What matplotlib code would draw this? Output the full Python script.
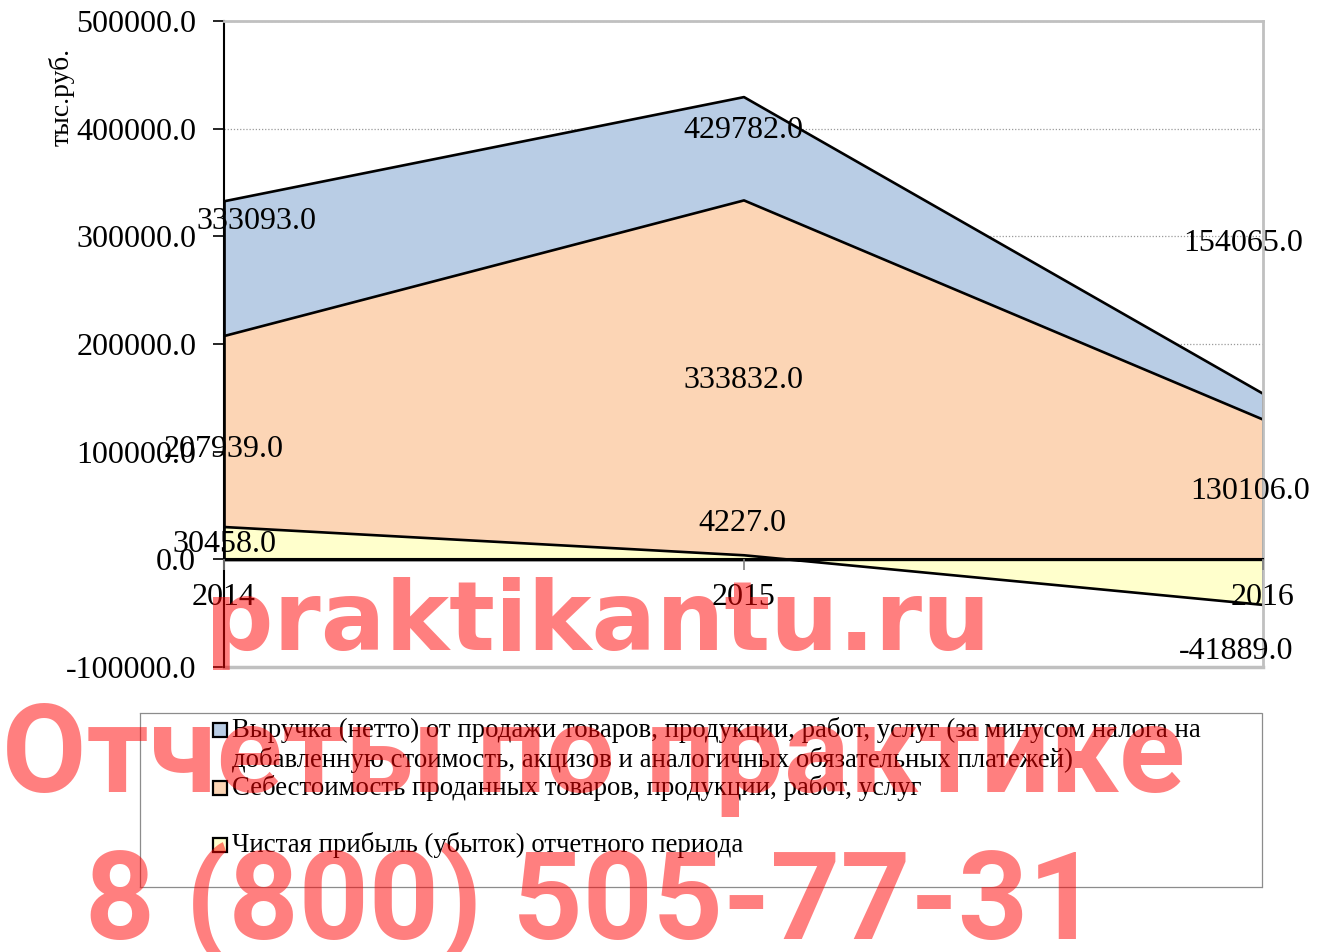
import matplotlib
matplotlib.use('Agg')
import matplotlib.pyplot as plt
from matplotlib.patches import Rectangle
from matplotlib.ticker import FuncFormatter

# ---- data ----
years = ['2014', '2015', '2016']
revenue = [333093.0, 429782.0, 154065.0]
cost = [207939.0, 333832.0, 130106.0]
profit = [30458.0, 4227.0, -41889.0]
series_names = [
    'Выручка (нетто) от продажи товаров, продукции, работ, услуг (за минусом налога на\n'
    'добавленную стоимость, акцизов и аналогичных обязательных платежей)',
    'Себестоимость проданных товаров, продукции, работ, услуг',
    'Чистая прибыль (убыток) отчетного периода',
]
y_ticks = [-100000, 0, 100000, 200000, 300000, 400000, 500000]
y_label = 'тыс.руб.'
watermark = ['praktikantu.ru', 'Отчеты по практике', '8 (800) 505-77-31']

# ---- style ----
colors = ['#B9CDE5', '#FCD5B5', '#FFFFCC']
# data-label offsets in pixels (dx right, dy down) per series / per year
label_offsets = [
    [(32, 21), (0, 34), (-20, -150)],
    [(0, 114), (0, 181), (-13, 72)],
    [(0, 18), (-1, -31), (-27, 47)],
]
FS = 23

plt.rcParams['font.family'] = ['Liberation Serif', 'DejaVu Serif']

W, H = 1325, 952
fig = plt.figure(figsize=(W / 100, H / 100), dpi=100)


def fx(px):
    return px / W


def fy(py):
    return 1 - py / H


ax = fig.add_axes([fx(224), fy(667), fx(1263) - fx(224), fy(21) - fy(667)])
xs = list(range(len(years)))
all_series = [revenue, cost, profit]
for vals, c in zip(all_series, colors):
    ax.fill_between(xs, 0, vals, facecolor=c, edgecolor='black',
                    linewidth=1.9, zorder=2)

ax.set_xlim(0, len(years) - 1)
ax.set_ylim(y_ticks[0], y_ticks[-1])
ax.set_yticks(y_ticks)
ax.yaxis.set_major_formatter(FuncFormatter(lambda v, p: f'{v:.1f}'))
ax.tick_params(axis='y', direction='out', length=8, width=1.2,
               color='black', labelsize=FS, pad=12)
ax.yaxis.grid(True, linestyle=(0, (1, 1.5)), color='#9a9a9a', linewidth=0.9)
ax.set_axisbelow(True)

ax.set_xticks(xs)
ax.set_xticklabels(years)
ax.tick_params(axis='x', direction='out', length=8, width=1.2,
               color='#808080', labelsize=FS, pad=9)
ax.xaxis.set_zorder(4)
ax.spines['bottom'].set_position(('data', 0))
ax.spines['bottom'].set_color('black')
ax.spines['bottom'].set_linewidth(1.5)
ax.spines['left'].set_color('black')
ax.spines['left'].set_linewidth(1.5)
for s in ('top', 'right'):
    ax.spines[s].set_color('#C0C0C0')
    ax.spines[s].set_linewidth(2)
# plot-area bottom border
ax.plot([0, 1], [0, 0], transform=ax.transAxes, color='#C0C0C0',
        linewidth=2.5, clip_on=False, zorder=1)

# data labels
for vals, offs in zip(all_series, label_offsets):
    for xi, v, (dx, dy) in zip(xs, vals, offs):
        ax.annotate(f'{v:.1f}', xy=(xi, v), xytext=(dx, -dy),
                    textcoords='offset pixels', ha='center', va='center',
                    fontsize=FS, zorder=5, annotation_clip=False)

fig.text(fx(62), fy(97), y_label, rotation=90, ha='center', va='center',
         fontsize=20)

# legend box
lax = fig.add_axes([fx(140), fy(887), fx(1262) - fx(140), fy(713) - fy(887)])
lax.set_xlim(140, 1262)
lax.set_ylim(887, 713)
lax.set_xticks([])
lax.set_yticks([])
for s in lax.spines.values():
    s.set_linestyle((0, (1, 1)))
    s.set_color('#8c8c8c')
    s.set_linewidth(0.9)
entry_y = [730, 788, 845]
for name, c, yy in zip(series_names, colors, entry_y):
    lax.add_patch(Rectangle((213, yy - 7), 14, 14, facecolor=c,
                            edgecolor='black', linewidth=1.6))
    for k, line in enumerate(name.split('\n')):
        lax.text(232, yy + 30 * k, line, ha='left', va='center', fontsize=19.3)

# watermark
fig.text(fx(205), fy(650), watermark[0], family=['DejaVu Sans'],
         fontweight='bold', fontsize=69, color='red', alpha=0.5,
         ha='left', va='baseline', zorder=10)
fig.text(fx(2), fy(792), watermark[1], family=['Roboto', 'DejaVu Sans'],
         fontweight='bold', fontsize=88, color='red', alpha=0.5,
         ha='left', va='baseline', zorder=10)
fig.text(fx(85), fy(940), watermark[2], family=['Roboto', 'DejaVu Sans'],
         fontweight='bold', fontsize=88, color='red', alpha=0.5,
         ha='left', va='baseline', zorder=10)

fig.savefig('out.png', dpi=100)
